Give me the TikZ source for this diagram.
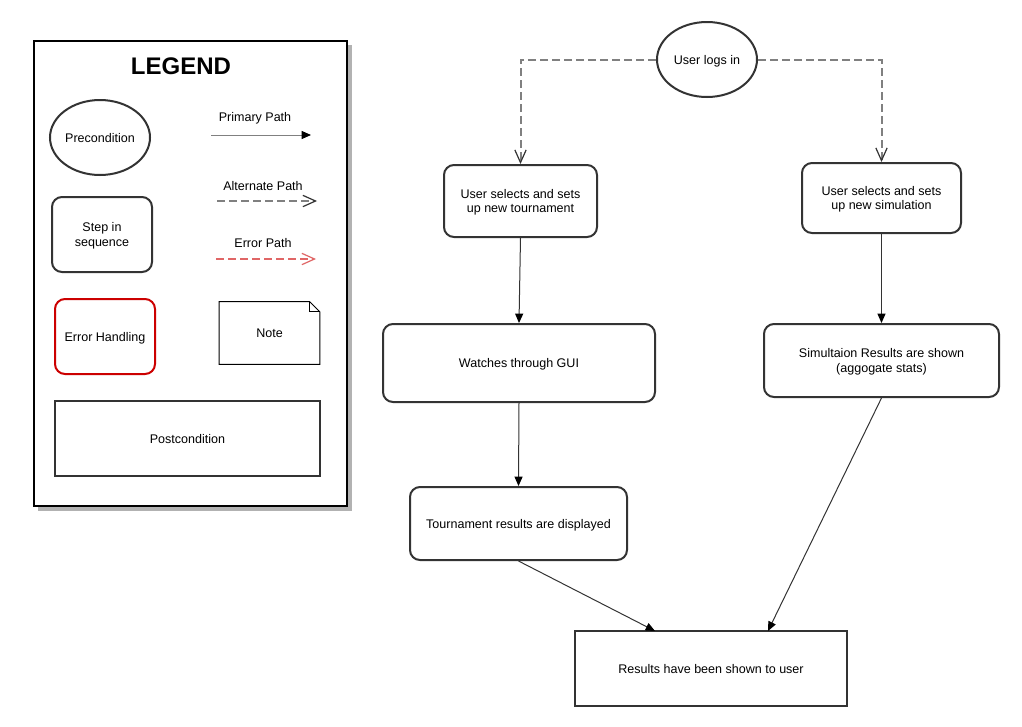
\documentclass[tikz,border=0pt]{standalone}
\usepackage{fontspec}
\setmainfont{Liberation Sans}
\usetikzlibrary{arrows.meta}
\definecolor{dk}{HTML}{333333}
\definecolor{gr}{HTML}{808080}
\definecolor{errred}{HTML}{CC0000}
\definecolor{errline}{HTML}{E06666}
\tikzset{
  txt/.style={font=\fontsize{9.4}{10.8}\selectfont, align=center, inner sep=0pt, text depth=0pt},
  stepbox/.style={txt, draw=dk, line width=1.5pt, rounded corners=7.5pt},
  postbox/.style={txt, draw=dk, line width=1.5pt},
  precond/.style={txt, draw=dk, line width=1.5pt, ellipse},
  primarr/.style={draw=dk, line width=0.75pt, -{Triangle[length=7pt,width=6pt,color=black,fill=black]}},
  altarr/.style={draw=gr, line width=1.5pt, dash pattern=on 6pt off 3pt, -{Straight Barb[length=9.5pt,width=8.5pt,line width=0.9pt,color=dk]}},
  errarr/.style={draw=errline, line width=1.5pt, dash pattern=on 6pt off 3pt, -{Straight Barb[length=9.5pt,width=8.5pt,line width=0.9pt]}},
}
\usetikzlibrary{shapes.geometric}
\begin{document}
\begin{tikzpicture}[x=0.75pt,y=-0.75pt]
\useasboundingbox (0,0) rectangle (1022,726);
% legend
\fill[black!30] (38,45) rectangle (352,511);
\node[draw=black, fill=white, line width=1.5pt, minimum width=234.75pt, minimum height=348.75pt, inner sep=0pt] (legend) at (190.5,273.5) {};
\node[font=\bfseries\fontsize{18}{20}\selectfont] (ltitle) at (181,66) {LEGEND};
\node[precond, minimum width=75pt, minimum height=56.25pt] (pre) at (100,137.5) {Precondition};
\node[stepbox, minimum width=75pt, minimum height=56.25pt] (lstep) at (102,234.5) {Step in\\sequence};
\node[stepbox, draw=errred, minimum width=75pt, minimum height=56.25pt] (lerr) at (105,336.5) {Error Handling};
\node[postbox, minimum width=198.75pt, minimum height=56.25pt] (lpost) at (187.5,438.5) {Postcondition};
\node[txt, minimum width=75pt, minimum height=46.5pt] (note) at (269.5,333) {Note};
\draw[black, line width=0.75pt] (note.north west) -- ([xshift=-7.5pt]note.north east) -- ([yshift=-7.5pt]note.north east) -- (note.south east) -- (note.south west) -- cycle;
\draw[black, line width=0.75pt] ([xshift=-7.5pt]note.north east) -- ([xshift=-7.5pt,yshift=-7.5pt]note.north east) -- ([yshift=-7.5pt]note.north east);
\node[txt] (lprim) at (255,116.5) {Primary Path};
\coordinate (p1) at (211,135); \coordinate (p2) at (311,135);
\draw[primarr, draw=gr] (p1) -- (p2);
\node[txt] (lalt) at (263,185.5) {Alternate Path};
\coordinate (a1) at (217,201); \coordinate (a2) at (317,201);
\draw[altarr] (a1) -- (a2);
\node[txt] (lerrp) at (263,242.5) {Error Path};
\coordinate (e1) at (216,259); \coordinate (e2) at (316,259);
\draw[errarr] (e1) -- (e2);
% main flow
\node[precond, minimum width=75pt, minimum height=56.25pt] (login) at (707,59.5) {User logs in};
\node[stepbox, minimum width=114.75pt, minimum height=54pt] (tour) at (520.5,201) {User selects and sets\\up new tournament};
\node[stepbox, minimum width=119.25pt, minimum height=52.5pt] (sim) at (881.5,198) {User selects and sets\\up new simulation};
\node[stepbox, minimum width=204pt, minimum height=58.5pt] (gui) at (519,363) {Watches through GUI};
\node[stepbox, minimum width=176.25pt, minimum height=54.75pt] (simres) at (881.5,360.5) {Simultaion Results are shown\\(aggogate stats)};
\node[stepbox, minimum width=162.75pt, minimum height=54.75pt] (tres) at (518.5,523.5) {Tournament results are displayed};
\node[postbox, minimum width=204pt, minimum height=56.25pt] (res) at (711,668.5) {Results have been shown to user};
\draw[altarr] (login.west) -| (tour.north);
\draw[altarr] (login.east) -| (sim.north);
\draw[primarr] (tour.south) -- (gui.north);
\draw[primarr] (gui.south) -- (tres.north);
\draw[primarr] (sim.south) -- (simres.north);
\coordinate (r1) at (655,631);
\coordinate (r2) at (768,631);
\draw[primarr] (tres.south) -- (r1);
\draw[primarr] (simres.south) -- (r2);
\end{tikzpicture}
\end{document}
